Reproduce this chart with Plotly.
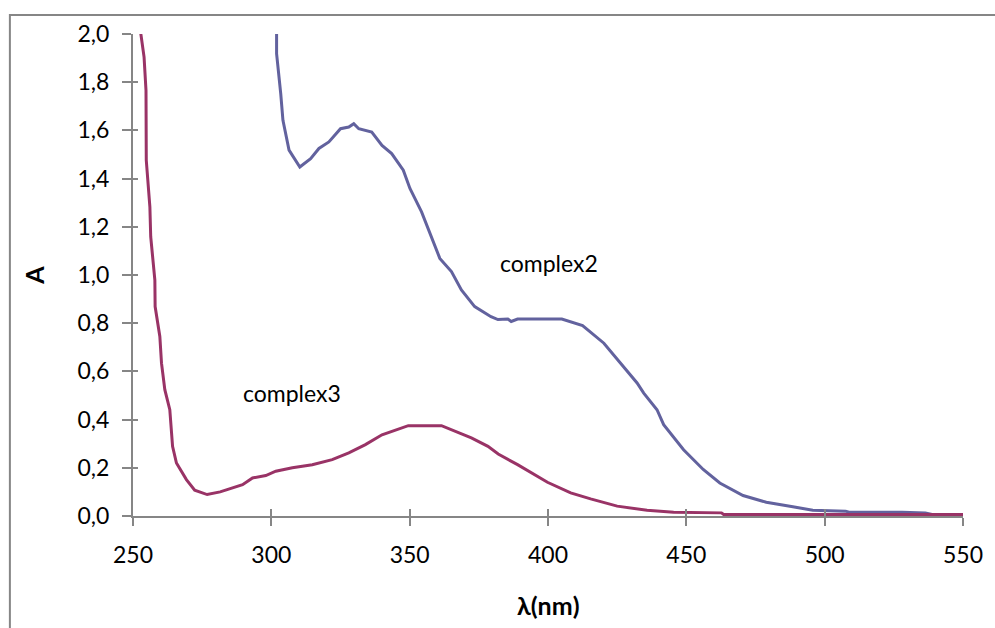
import plotly.graph_objects as go

# complex3 spectrum (wavelength nm, absorbance)
wl3 = [252.6, 254.0, 254.7, 254.8, 256.1, 256.4, 257.9, 258.0, 259.7, 260.3, 261.5, 263.3,
       264.3, 265.7, 269.3, 272.3, 276.8, 281.5, 289.6, 293.2, 298.0, 301.6, 307.6, 314.8,
       322.0, 328.0, 334.0, 340.0, 349.5, 361.5, 372.3, 378.3, 382.0, 389.0, 399.8, 408.2,
       415.4, 425.0, 435.8, 445.4, 462.7, 463.5, 550.0]
abs3 = [2.02, 1.904, 1.766, 1.476, 1.283, 1.159, 0.979, 0.869, 0.745, 0.634, 0.524, 0.441,
        0.289, 0.220, 0.151, 0.107, 0.089, 0.100, 0.130, 0.158, 0.168, 0.186, 0.200, 0.213,
        0.234, 0.262, 0.296, 0.337, 0.375, 0.375, 0.324, 0.289, 0.257, 0.213, 0.140, 0.096,
        0.071, 0.041, 0.024, 0.016, 0.013, 0.006, 0.006]

# complex2 spectrum
wl2 = [301.9, 301.9, 303.4, 304.2, 306.4, 310.3, 314.2, 317.2, 320.8, 325.0, 328.0, 329.8,
       331.6, 336.3, 340.0, 343.5, 347.7, 350.1, 354.3, 357.9, 360.9, 365.1, 368.7, 373.5,
       379.4, 381.9, 385.5, 386.7, 389.0, 405.0, 412.5, 420.2, 426.2, 432.2, 434.6, 439.4,
       441.8, 449.0, 456.1, 462.1, 470.5, 478.9, 488.5, 495.7, 507.6, 508.8, 528.0, 536.4,
       538.8, 550.0]
abs2 = [2.02, 1.918, 1.752, 1.642, 1.518, 1.448, 1.483, 1.525, 1.552, 1.607, 1.614, 1.628,
        1.607, 1.593, 1.538, 1.504, 1.435, 1.359, 1.262, 1.159, 1.069, 1.014, 0.938, 0.869,
        0.827, 0.815, 0.817, 0.807, 0.817, 0.817, 0.790, 0.717, 0.634, 0.552, 0.510, 0.441,
        0.379, 0.275, 0.193, 0.137, 0.085, 0.057, 0.038, 0.024, 0.020, 0.016, 0.016, 0.013,
        0.006, 0.006]

x_ticks = [250, 300, 350, 400, 450, 500, 550]
y_ticks = [0.0, 0.2, 0.4, 0.6, 0.8, 1.0, 1.2, 1.4, 1.6, 1.8, 2.0]

FONT = "Lato"
AXC = "#868686"
W, H = 995, 628
L, R, T, B = 133, 26, 34, 111.5
pw, ph = W - L - R, H - T - B

fig = go.Figure()
fig.add_trace(go.Scatter(x=wl2, y=abs2, mode="lines", name="complex2",
                         line=dict(color="#62629E", width=3)))
fig.add_trace(go.Scatter(x=wl3, y=abs3, mode="lines", name="complex3",
                         line=dict(color="#993366", width=3)))
# invisible helper trace for the inner-tick overlay axes
fig.add_trace(go.Scatter(x=[x_ticks[0]], y=[y_ticks[0]], xaxis="x2", yaxis="y2",
                         mode="markers", marker=dict(opacity=0), hoverinfo="skip",
                         showlegend=False))

tick_font = dict(family=FONT, size=23, color="black")
fig.update_layout(
    width=W, height=H,
    margin=dict(l=L, r=R, t=T, b=B),
    paper_bgcolor="white", plot_bgcolor="white",
    showlegend=False,
    separators=", ",
    font=tick_font,
    hovermode=False,
    xaxis=dict(range=[250, 550], tickvals=x_ticks, ticks="outside", ticklen=8,
               tickwidth=2, tickcolor=AXC, showline=True, linecolor=AXC, linewidth=2,
               showgrid=False, zeroline=False, tickfont=tick_font,
               ticklabelstandoff=9, ticklabeloverflow="allow"),
    yaxis=dict(range=[0, 2], tickvals=y_ticks, tickformat=".1f", ticks="outside",
               ticklen=9, tickwidth=2, tickcolor=AXC, showline=True, linecolor=AXC,
               linewidth=2, showgrid=False, zeroline=False, tickfont=tick_font,
               ticklabelstandoff=8, ticklabeloverflow="allow"),
    xaxis2=dict(range=[250, 550], tickvals=x_ticks, ticks="inside", ticklen=7,
                tickwidth=2, tickcolor=AXC, showticklabels=False, showline=False,
                showgrid=False, zeroline=False, overlaying="x", anchor="y2"),
    yaxis2=dict(range=[0, 2], tickvals=y_ticks, ticks="inside", ticklen=5,
                tickwidth=2, tickcolor=AXC, showticklabels=False, showline=False,
                showgrid=False, zeroline=False, overlaying="y", anchor="x2"),
    shapes=[dict(type="rect", xref="paper", yref="paper",
                 x0=(9 - L) / pw, x1=(W + 10 - L) / pw,
                 y0=(H - B - (H + 10)) / ph, y1=1 + (T - 15) / ph,
                 line=dict(color=AXC, width=2), fillcolor="rgba(0,0,0,0)", layer="below")],
    annotations=[
        dict(text="complex2", x=400.4, y=1.05, xref="x", yref="y", showarrow=False,
             xanchor="center", yanchor="middle",
             font=dict(family=FONT, size=23, color="black")),
        dict(text="complex3", x=307.6, y=0.509, xref="x", yref="y", showarrow=False,
             xanchor="center", yanchor="middle",
             font=dict(family=FONT, size=23, color="black")),
        dict(text="<b>A</b>", x=(33 - L) / pw, y=0.5, xref="paper", yref="paper",
             showarrow=False, textangle=-90, xanchor="center", yanchor="middle",
             font=dict(family=FONT, size=25, color="black")),
        dict(text="<b>λ(nm)</b>", x=(551 - L) / pw, y=-(606 - (H - B)) / ph, xref="paper",
             yref="paper", showarrow=False, xanchor="center", yanchor="middle",
             font=dict(family=FONT, size=25, color="black")),
    ],
)

fig.write_html(
    "out.html",
    config={"displayModeBar": False, "staticPlot": True},
    post_script=("document.documentElement.style.margin='0';"
                 "document.body.style.margin='0';"
                 "document.documentElement.style.overflow='hidden';"
                 "document.body.style.overflow='hidden';"),
)
